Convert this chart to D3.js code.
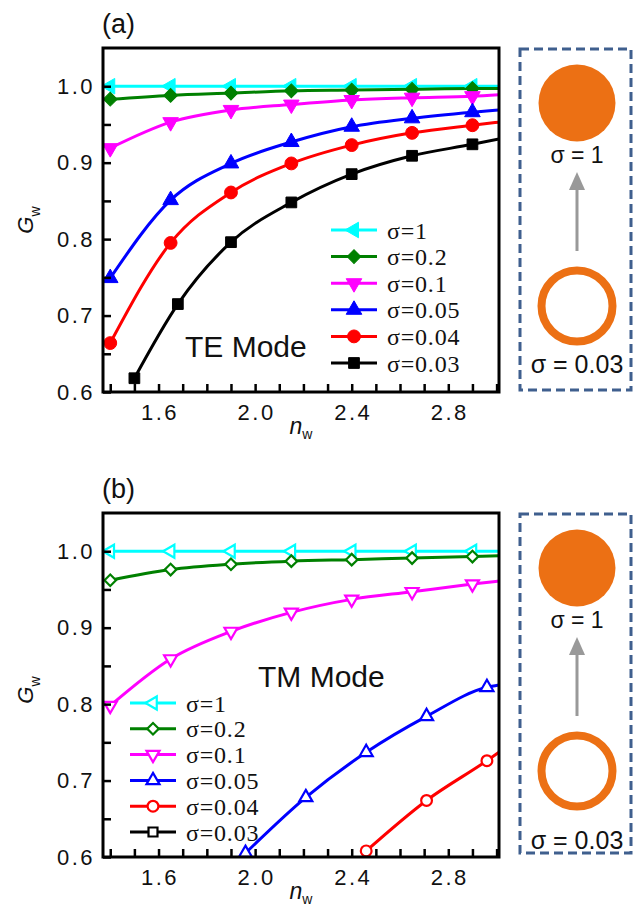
<!DOCTYPE html>
<html>
<head>
<meta charset="utf-8">
<title>Gw vs nw, TE and TM</title>
<style>
  body { margin: 0; background: #fff; }
  svg text { fill: #111; }
</style>
</head>
<body>
<script src="https://cdn.jsdelivr.net/npm/d3@7"></script>
<script>
// ---- data ----
var nwMarks   = [1.4, 1.65, 1.9, 2.15, 2.4, 2.65, 2.9];
var nwBlackTE = [1.5, 1.68, 1.9, 2.15, 2.4, 2.65, 2.9];
var nwBlueTM  = [1.96, 2.21, 2.46, 2.71, 2.96];
var nwRedTM   = [2.46, 2.71, 2.96];
var nwEdge    = 3.01;   // where curves leave the frame

var sigmaLabels = ["σ=1", "σ=0.2", "σ=0.1", "σ=0.05", "σ=0.04", "σ=0.03"];

// (a) TE mode
var teS1   = [1.0, 1.0, 1.0, 1.0, 1.0, 1.0, 1.0];
var teS02  = [0.983, 0.988, 0.991, 0.994, 0.995, 0.996, 0.997];
var teS01  = [0.919, 0.953, 0.969, 0.976, 0.982, 0.985, 0.987];
var teS005 = [0.749, 0.851, 0.899, 0.927, 0.947, 0.958, 0.966];
var teS004 = [0.664, 0.795, 0.861, 0.899, 0.923, 0.939, 0.949];
var teS003 = [0.618, 0.715, 0.796, 0.848, 0.885, 0.909, 0.924];
var teEdge = [1.0, 0.997, 0.989, 0.969, 0.953, 0.931];

// (b) TM mode
var tmS1   = [1.0, 1.0, 1.0, 1.0, 1.0, 1.0, 1.0];
var tmS02  = [0.962, 0.976, 0.983, 0.987, 0.989, 0.991, 0.993];
var tmS01  = [0.798, 0.859, 0.895, 0.920, 0.937, 0.947, 0.957];
var tmS005 = [0.605, 0.678, 0.737, 0.784, 0.822];
var tmS004 = [0.608, 0.674, 0.726];
var tmEdge = [1.0, 0.994, 0.961, 0.825, 0.737];

var xTickMajor = [1.6, 2.0, 2.4, 2.8];
var xTickAll   = [1.4, 1.5, 1.6, 1.7, 1.8, 1.9, 2.0, 2.1, 2.2, 2.3, 2.4, 2.5, 2.6, 2.7, 2.8, 2.9, 3.0];
var yTickMajor = [0.6, 0.7, 0.8, 0.9, 1.0];
var yTickAll   = [0.6, 0.65, 0.7, 0.75, 0.8, 0.85, 0.9, 0.95, 1.0];

// ---- styles ----
var colors = ["#00ffff", "#008000", "#ff00ff", "#0000ff", "#ff0000", "#000000"];
var shapes = ["left", "diamond", "down", "up", "circle", "square"];

var W = 633, H = 911;
var svg = d3.select("body").append("svg")
    .attr("width", W).attr("height", H)
    .style("font-family", "Arial, 'Liberation Sans', sans-serif");
svg.append("rect").attr("width", W).attr("height", H).attr("fill", "#fff");

var x = d3.scaleLinear().domain([1.37, 3.01]).range([103, 499]);
var y = d3.scaleLinear().domain([0.6, 1.05]).range([392, 48]);

function markerPath(shape, open) {
    var k = open ? 0.7 : 1;
    if (shape == "circle") return d3.symbol(d3.symbolCircle, 130 * k)();
    if (shape == "square") return d3.symbol(d3.symbolSquare, 115 * k)();
    if (shape == "diamond") return d3.symbol(d3.symbolSquare, 95 * k)();
    return d3.symbol(d3.symbolTriangle, 105 * k)();
}
function markerRot(shape) {
    if (shape == "left") return -90;
    if (shape == "down") return 180;
    if (shape == "diamond") return 45;
    return 0;
}

function drawMarker(g, shape, color, open, cx, cy) {
    g.append("path")
        .attr("d", markerPath(shape, open))
        .attr("transform", "translate(" + cx + "," + cy + ") rotate(" + markerRot(shape) + ")")
        .attr("fill", open ? "#fff" : color)
        .attr("stroke", color)
        .attr("stroke-width", open ? 2.2 : 1);
}

function drawPanel(dy, cfg) {
    var g = svg.append("g").attr("transform", "translate(0," + dy + ")");
    var id = "clip" + dy;
    g.append("clipPath").attr("id", id).append("rect")
        .attr("x", 103).attr("y", 48).attr("width", 396).attr("height", 344);

    var plot = g.append("g").attr("clip-path", "url(#" + id + ")");
    var line = d3.line().x(function (d) { return x(d[0]); }).y(function (d) { return y(d[1]); })
        .curve(d3.curveMonotoneX);

    cfg.series.forEach(function (s, i) {
        if (!s.vals) return;
        var pts = s.xs.map(function (v, j) { return [v, s.vals[j]]; });
        var linePts = pts.concat([[nwEdge, cfg.edge[i]]]);
        plot.append("path").datum(linePts)
            .attr("d", line)
            .attr("fill", "none")
            .attr("stroke", colors[i])
            .attr("stroke-width", 3);
    });
    cfg.series.forEach(function (s, i) {
        if (!s.vals) return;
        s.xs.forEach(function (v, j) {
            drawMarker(plot, shapes[i], colors[i], cfg.open, x(v), y(s.vals[j]));
        });
    });

    // axes, ticks inward
    var xAxis = d3.axisBottom(x).tickValues(xTickAll).tickSize(-8).tickPadding(12)
        .tickFormat(function (d) { return xTickMajor.indexOf(d) >= 0 ? d3.format(".1f")(d) : ""; });
    var ax = g.append("g").attr("transform", "translate(0,392)").call(xAxis);
    var yAxis = d3.axisLeft(y).tickValues(yTickAll).tickSize(-8).tickPadding(8)
        .tickFormat(function (d) { return yTickMajor.indexOf(d) >= 0 ? d3.format(".1f")(d) : ""; });
    var ay = g.append("g").attr("transform", "translate(103,0)").call(yAxis);
    [ax, ay].forEach(function (a) {
        a.select(".domain").remove();
        a.selectAll(".tick line").attr("stroke", "#000").attr("stroke-width", 2.5);
        a.selectAll(".tick text").attr("font-size", "22px").attr("fill", "#111")
            .style("letter-spacing", "2.5px").attr("font-family", "Arial, 'Liberation Sans', sans-serif");
    });
    ax.selectAll(".tick text").attr("dx", "1px");

    g.append("rect").attr("x", 103).attr("y", 48).attr("width", 396).attr("height", 344)
        .attr("fill", "none").attr("stroke", "#000").attr("stroke-width", 3);

    // panel letter
    g.append("text").attr("x", 102).attr("y", 33).attr("font-size", "27px").text(cfg.letter);

    // axis titles
    var gy = g.append("text").attr("transform", "translate(33," + cfg.gyY + ") rotate(-90)")
        .attr("text-anchor", "middle").attr("font-size", "22px");
    gy.append("tspan").attr("font-style", "italic").text("G");
    gy.append("tspan").attr("font-size", "14px").attr("dy", 7).text("w");

    var nx = g.append("text").attr("x", 301).attr("y", 434)
        .attr("text-anchor", "middle").attr("font-size", "23px");
    nx.append("tspan").attr("font-style", "italic").text("n");
    nx.append("tspan").attr("font-size", "14px").attr("dy", 5).text("w");

    // mode label
    g.append("text").attr("x", cfg.modeX).attr("y", cfg.modeY).attr("font-size", "30px").text(cfg.mode);

    // legend
    var lg = g.append("g");
    sigmaLabels.forEach(function (lab, i) {
        var cy = cfg.leg.y0 + i * cfg.leg.step;
        lg.append("line").attr("x1", cfg.leg.x0).attr("x2", cfg.leg.x0 + 46)
            .attr("y1", cy).attr("y2", cy).attr("stroke", colors[i]).attr("stroke-width", 3);
        drawMarker(lg, shapes[i], colors[i], cfg.open, cfg.leg.x0 + 23, cy);
        lg.append("text").attr("x", cfg.leg.x0 + 56).attr("y", cy).attr("dy", "0.36em")
            .attr("font-family", "'Times New Roman', 'Liberation Serif', serif")
            .attr("font-size", "24px").style("letter-spacing", "0.8px").text(lab);
    });

    // side box: solid particle -> shell
    var side = g.append("g");
    side.append("rect").attr("x", 520).attr("y", 49).attr("width", 111).attr("height", cfg.boxH)
        .attr("fill", "none").attr("stroke", "#3f5f8e").attr("stroke-width", 3)
        .attr("stroke-dasharray", "9,5");
    side.append("circle").attr("cx", 577).attr("cy", 103).attr("r", 38.5).attr("fill", "#ec7014");
    side.append("text").attr("x", 577).attr("y", 163).attr("text-anchor", "middle")
        .attr("font-size", "23px").text("σ = 1");
    side.append("line").attr("x1", 577).attr("x2", 577).attr("y1", 251).attr("y2", 186)
        .attr("stroke", "#999").attr("stroke-width", 3);
    side.append("path").attr("d", "M577,172 L569,190 L585,190 Z").attr("fill", "#999");
    side.append("circle").attr("cx", 577).attr("cy", 306).attr("r", 35.5)
        .attr("fill", "none").attr("stroke", "#ec7014").attr("stroke-width", 8);
    side.append("text").attr("x", 577).attr("y", cfg.shellTextY).attr("text-anchor", "middle")
        .attr("font-size", "25px").text("σ = 0.03");
}

drawPanel(0, {
    letter: "(a)", mode: "TE Mode", modeX: 185, modeY: 357, gyY: 220, open: false,
    boxH: 341, shellTextY: 373,
    edge: teEdge,
    series: [
        { xs: nwMarks, vals: teS1 },
        { xs: nwMarks, vals: teS02 },
        { xs: nwMarks, vals: teS01 },
        { xs: nwMarks, vals: teS005 },
        { xs: nwMarks, vals: teS004 },
        { xs: nwBlackTE, vals: teS003 }
    ],
    leg: { x0: 331, y0: 230, step: 26.6 }
});

drawPanel(465, {
    letter: "(b)", mode: "TM Mode", modeX: 258, modeY: 222, gyY: 225, open: true,
    boxH: 339, shellTextY: 384,
    edge: tmEdge,
    series: [
        { xs: nwMarks, vals: tmS1 },
        { xs: nwMarks, vals: tmS02 },
        { xs: nwMarks, vals: tmS01 },
        { xs: nwBlueTM, vals: tmS005 },
        { xs: nwRedTM, vals: tmS004 },
        { xs: [], vals: null }
    ],
    leg: { x0: 130, y0: 238, step: 25.8 }
});
</script>
</body>
</html>
